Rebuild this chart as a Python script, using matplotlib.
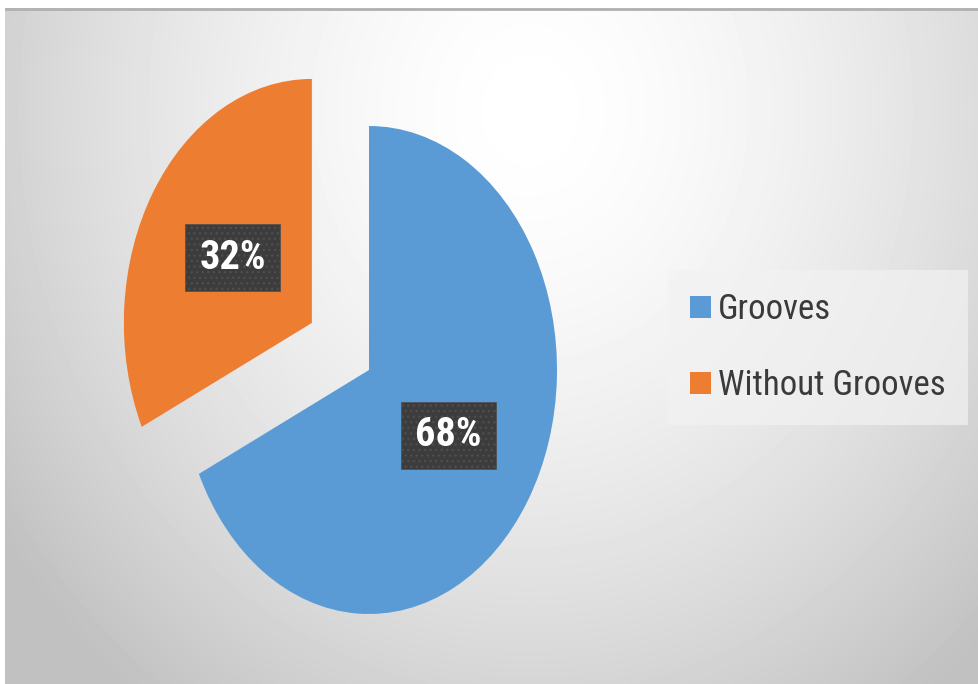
import matplotlib
matplotlib.use("Agg")
import matplotlib.pyplot as plt
from matplotlib import font_manager
from matplotlib.patches import Patch
import numpy as np

labels = ["Grooves", "Without Grooves"]
shares = [68, 32]
colors = ["#5B9BD5", "#ED7D31"]
explode = [0.0, 0.36]


def pick_font(names):
    for n in names:
        try:
            font_manager.findfont(n, fallback_to_default=False)
            return n
        except Exception:
            pass
    return "DejaVu Sans"


narrow = pick_font(["Liberation Sans Narrow", "Roboto Condensed", "Open Sans Condensed", "Liberation Sans"])

W, H = 979, 684
fig = plt.figure(figsize=(W / 100, H / 100), dpi=100)
fig.patch.set_facecolor("white")

# background gradient panel
bg = fig.add_axes([5 / W, 0, (W - 5) / W, (H - 8) / H])
yy, xx = np.mgrid[8:H, 5:W]
r = np.sqrt(((xx - 530) / 560.0) ** 2 + ((yy - 110) / 640.0) ** 2)
v = 255 - 62 * np.clip(r, 0, 1.15) ** 1.6 / 1.15 ** 1.6
bg.imshow(v, cmap="gray", vmin=0, vmax=255, aspect="auto", interpolation="bilinear")
bg.axhline(0, color="#b0b0b0", linewidth=2)
bg.set_axis_off()

# pie axes: ellipse centre at (369, 370) px, rx=188, ry=244
cx, cy, rx, ry = 369, 370, 188, 244
ax = fig.add_axes([0, 0, 1, 1])
ax.patch.set_alpha(0)
wedges, texts, autotexts = ax.pie(
    shares, colors=colors, explode=explode, startangle=90, counterclock=False,
    autopct="%d%%", pctdistance=0.5,
    wedgeprops=dict(edgecolor="none"),
    textprops=dict(color="white", fontsize=29, fontweight="bold", family=narrow),
)
ax.set_aspect("auto")
ax.set_xlim(-cx / rx, (W - cx) / rx)
ax.set_ylim(-(H - cy) / ry, cy / ry)
ax.set_axis_off()
for t in autotexts:
    t.set_bbox(dict(boxstyle="square,pad=0.36", facecolor="#3c3c3c",
                    edgecolor="#4e4e4e", hatch="...", linewidth=0.5))

handles = [Patch(facecolor=c, edgecolor="none") for c in colors]
leg = fig.legend(
    handles, labels, loc="center", bbox_to_anchor=(818 / W, 1 - 347.5 / H),
    prop=dict(family=narrow, size=25), labelcolor="#3a3a3a",
    handlelength=0.6, handleheight=0.6, handletextpad=0.2,
    labelspacing=1.25, borderpad=0.65, borderaxespad=0, frameon=True, fancybox=False,
)
leg.get_frame().set_facecolor("#f2f2f2")
leg.get_frame().set_edgecolor("none")
leg.get_frame().set_alpha(0.7)

fig.savefig("out.png", dpi=100)
